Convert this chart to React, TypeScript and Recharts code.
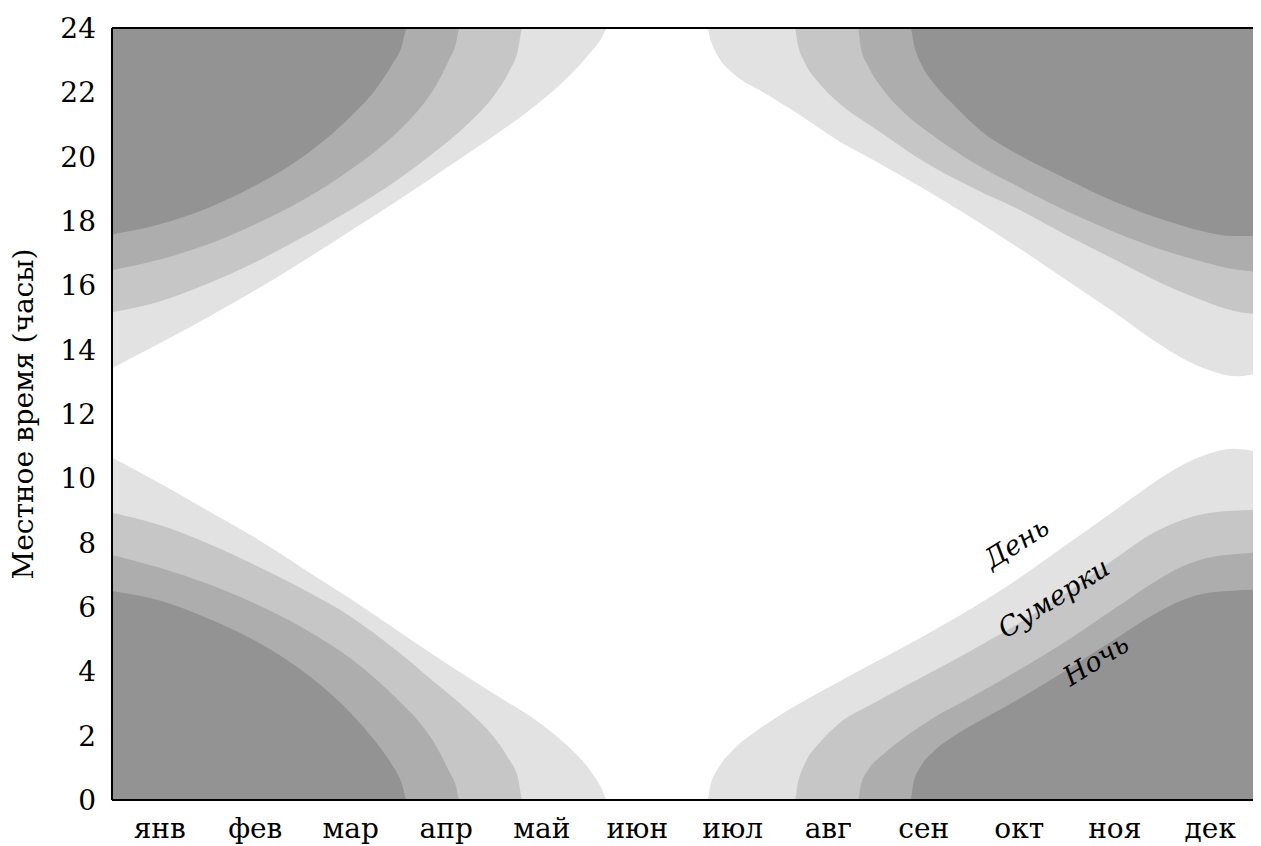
import React from 'react';
import { ComposedChart, Area, XAxis, YAxis, ReferenceLine, ReferenceDot } from 'recharts';

const months = ['янв', 'фев', 'мар', 'апр', 'май', 'июн', 'июл', 'авг', 'сен', 'окт', 'ноя', 'дек'];
const monthTicks = months.map((_, i) => i + 0.5);
const hourTicks = [0, 2, 4, 6, 8, 10, 12, 14, 16, 18, 20, 22, 24];

// [month position, local hour] — morning boundaries (bottom of chart)
const sunrise: [number, number][] = [[0,10.65],[0.5,9.85],[1,9.0],[1.5,8.15],[2,7.2],[2.5,6.25],[3,5.25],[3.5,4.25],[4,3.3],[4.5,2.35],[4.8,1.6],[5.0,0.95],[5.12,0.4],[5.19,0],[6.23,0],[6.27,0.5],[6.35,1.0],[6.5,1.55],[6.75,2.15],[7,2.65],[7.5,3.5],[8,4.3],[8.5,5.1],[9,5.95],[9.5,6.9],[10,7.95],[10.5,9.0],[10.9,9.85],[11.2,10.4],[11.5,10.78],[11.75,10.92],[12,10.82]];
const civilDawn: [number, number][] = [[0,8.93],[0.5,8.55],[1,7.98],[1.5,7.3],[2,6.55],[2.5,5.7],[3,4.6],[3.36,3.7],[3.72,2.8],[4.0,1.95],[4.15,1.3],[4.25,0.7],[4.3,0],[7.15,0],[7.18,0.5],[7.25,1.1],[7.4,1.75],[7.6,2.35],[8,3.05],[8.5,3.85],[9,4.65],[9.5,5.5],[10,6.45],[10.5,7.5],[10.9,8.3],[11.2,8.7],[11.5,8.93],[12,9.03]];
const nauticalDawn: [number, number][] = [[0,7.62],[0.5,7.22],[1,6.72],[1.5,6.1],[2,5.35],[2.5,4.4],[3,3.1],[3.25,2.3],[3.4,1.65],[3.52,0.95],[3.6,0.45],[3.64,0],[7.81,0],[7.84,0.45],[7.92,0.95],[8.05,1.35],[8.3,1.95],[8.6,2.55],[9,3.2],[9.5,4.05],[10,4.95],[10.5,5.95],[10.9,6.75],[11.2,7.25],[11.5,7.55],[12,7.69]];
const nightEnd: [number, number][] = [[0,6.5],[0.5,6.2],[1,5.65],[1.5,4.95],[2,4.0],[2.5,2.7],[2.75,1.85],[2.92,1.15],[3.03,0.55],[3.09,0],[8.36,0],[8.39,0.5],[8.46,1.0],[8.6,1.5],[8.85,2.05],[9.2,2.65],[9.5,3.15],[10,4.05],[10.5,5.0],[10.9,5.75],[11.2,6.2],[11.5,6.45],[12,6.54]];

// evening boundaries (top of chart)
const sunset: [number, number][] = [[0,13.42],[0.5,14.2],[1,15.0],[1.5,15.85],[2,16.75],[2.5,17.7],[3,18.65],[3.5,19.65],[4,20.65],[4.5,21.75],[4.8,22.55],[5.0,23.2],[5.12,23.65],[5.19,24],[6.23,24],[6.27,23.6],[6.35,23.1],[6.5,22.6],[6.82,22.0],[7.2,21.3],[7.6,20.5],[8,19.85],[8.5,19.0],[9,18.1],[9.5,17.15],[10,16.15],[10.5,15.15],[10.9,14.3],[11.2,13.75],[11.5,13.35],[11.77,13.17],[12,13.27]];
const civilDusk: [number, number][] = [[0,15.16],[0.5,15.5],[1,16.05],[1.5,16.72],[2,17.5],[2.5,18.35],[3,19.3],[3.36,20.1],[3.72,21.0],[4.0,21.9],[4.15,22.6],[4.25,23.3],[4.3,24],[7.15,24],[7.18,23.5],[7.25,22.95],[7.4,22.3],[7.6,21.7],[8,20.85],[8.5,19.85],[9,19.05],[9.5,18.35],[10,17.55],[10.5,16.8],[11,16.05],[11.4,15.55],[11.75,15.2],[12,15.1]];
const nauticalDusk: [number, number][] = [[0,16.47],[0.5,16.8],[1,17.27],[1.5,17.9],[2,18.65],[2.5,19.6],[3,20.8],[3.25,21.6],[3.4,22.25],[3.52,22.95],[3.6,23.5],[3.64,24],[7.81,24],[7.84,23.4],[7.92,22.8],[8.07,22.1],[8.3,21.35],[8.6,20.65],[9,19.85],[9.5,19.05],[10,18.3],[10.5,17.65],[11,17.1],[11.4,16.75],[11.75,16.5],[12,16.42]];
const nightStart: [number, number][] = [[0,17.58],[0.5,17.9],[1,18.4],[1.5,19.1],[2,20.0],[2.5,21.25],[2.75,22.05],[2.92,22.8],[3.03,23.4],[3.09,24],[8.36,24],[8.4,23.45],[8.47,22.9],[8.6,22.3],[8.8,21.65],[9.1,20.8],[9.5,20.05],[10,19.3],[10.5,18.6],[11,18.05],[11.4,17.7],[11.75,17.53],[12,17.53]];

const labels = [
  { text: 'День', m: 9.47, h: 8.0 },
  { text: 'Сумерки', m: 9.86, h: 6.29 },
  { text: 'Ночь', m: 10.3, h: 4.36 },
];

const COLORS = { day: '#e2e2e2', civil: '#c6c6c6', naut: '#adadad', night: '#939393' };
const FONT = 'DejaVu Serif';

const toRows = (pts: [number, number][]) => pts.map(([m, h]) => ({ m, h }));

const bottomBands = [
  { key: 'sunrise', pts: sunrise, color: COLORS.day },
  { key: 'civilDawn', pts: civilDawn, color: COLORS.civil },
  { key: 'nauticalDawn', pts: nauticalDawn, color: COLORS.naut },
  { key: 'nightEnd', pts: nightEnd, color: COLORS.night },
];
const topBands = [
  { key: 'sunset', pts: sunset, color: COLORS.day },
  { key: 'civilDusk', pts: civilDusk, color: COLORS.civil },
  { key: 'nauticalDusk', pts: nauticalDusk, color: COLORS.naut },
  { key: 'nightStart', pts: nightStart, color: COLORS.night },
];

const RotatedText = (text: string) => (props: any) => {
  const { cx, cy } = props;
  return (
    <text
      x={cx}
      y={cy}
      transform={`rotate(-32 ${cx} ${cy})`}
      textAnchor="middle"
      dominantBaseline="central"
      fontStyle="italic"
      fontSize={27}
      fontFamily={FONT}
      fill="#000"
    >
      {text}
    </text>
  );
};

const YLabel = (props: any) => {
  const vb = props.viewBox || {};
  const cx = (vb.x || 0) + 25;
  const cy = (vb.y || 0) + (vb.height || 0) / 2;
  return (
    <text
      x={cx}
      y={cy}
      transform={`rotate(-90 ${cx} ${cy})`}
      textAnchor="middle"
      fontSize={28}
      fontFamily={FONT}
      fill="#000"
    >
      Местное время (часы)
    </text>
  );
};

export default function App() {
  return (
    <div style={{ fontFamily: FONT }}>
      <ComposedChart width={1253} height={838} margin={{ top: 20, right: 3, left: 0, bottom: 0 }}>
        <XAxis
          dataKey="m"
          type="number"
          domain={[0, 12]}
          ticks={monthTicks}
          tickFormatter={(v: number) => months[Math.floor(v)]}
          axisLine={false}
          tickLine={false}
          tickMargin={12}
          height={46}
          tick={{ fill: '#000', fontSize: 28, fontFamily: FONT }}
          allowDuplicatedCategory={false}
        />
        <YAxis
          type="number"
          domain={[0, 24]}
          ticks={hourTicks}
          axisLine={false}
          tickLine={false}
          tickMargin={10}
          width={104}
          tick={{ fill: '#000', fontSize: 28, fontFamily: FONT }}
          label={{ content: YLabel }}
        />
        {bottomBands.map((b) => (
          <Area
            key={b.key}
            data={toRows(b.pts)}
            dataKey="h"
            type="monotone"
            fill={b.color}
            fillOpacity={1}
            stroke="none"
            baseValue={0}
            isAnimationActive={false}
          />
        ))}
        {topBands.map((b) => (
          <Area
            key={b.key}
            data={toRows(b.pts)}
            dataKey="h"
            type="monotone"
            fill={b.color}
            fillOpacity={1}
            stroke="none"
            baseValue={24}
            isAnimationActive={false}
          />
        ))}
        <ReferenceLine y={24} stroke="#000" strokeWidth={2} />
        <ReferenceLine y={0} stroke="#000" strokeWidth={2} />
        <ReferenceLine x={0} stroke="#000" strokeWidth={2} />
        {labels.map((l) => (
          <ReferenceDot key={l.text} x={l.m} y={l.h} r={0} shape={RotatedText(l.text)} />
        ))}
      </ComposedChart>
    </div>
  );
}
